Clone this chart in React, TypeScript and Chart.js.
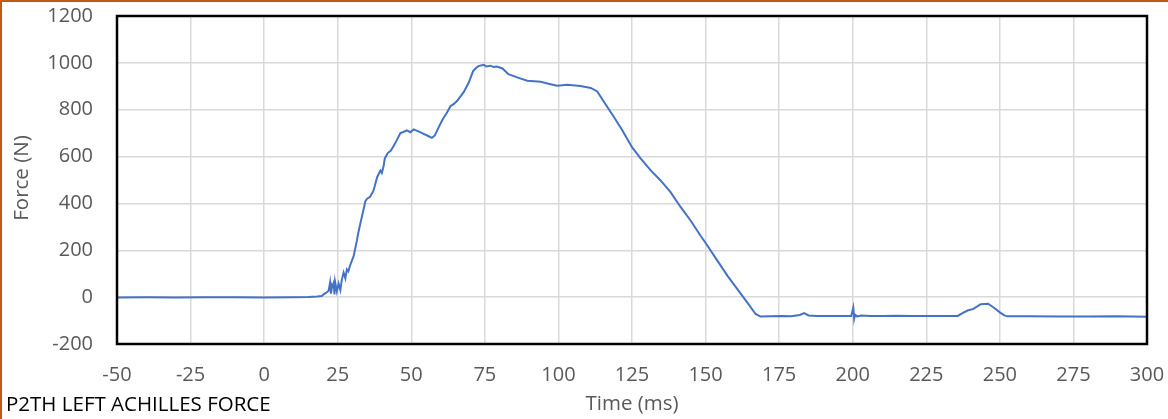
import React, { useEffect, useRef } from "react";
import { Chart, registerables } from "chart.js";

Chart.register(...registerables);

const chartTitle = "P2TH LEFT ACHILLES FORCE";
const xAxisTitle = "Time (ms)";
const yAxisTitle = "Force (N)";

const timeMs: number[] = [
  -50, -40, -30, -20, -10, 0, 10, 15, 18, 19.6, 20.2, 21, 21.9, 22.4, 22.7, 23, 23.6, 23.9, 24.1, 24.7,
  25.3, 25.9, 26.4, 27, 27.6, 28.1, 28.6, 29.2, 30.4, 31.5, 32, 32.7, 33.7, 34.4, 35, 36, 37, 37.5, 38.4,
  39.5, 40, 40.6, 41, 42, 43, 44, 45, 46.3, 47.3, 48.5, 49.7, 50.8, 52, 53, 54, 55.4, 57, 58, 58.8, 59.5,
  60.5, 61.2, 62, 63.3, 64.5, 65.6, 67.8, 69.5, 71, 72, 72.8, 74.6, 75.5, 76.9, 78, 79, 81, 83, 86, 89.4,
  94, 97.3, 99.6, 103, 107.5, 111, 113.2, 115.4, 118.8, 121.7, 125, 127.9, 131.3, 134.7, 138.1, 141.5,
  144.9, 148.3, 150.2, 154, 157.4, 160.8, 164.2, 167, 168.7, 172, 176, 179, 182, 183.5, 185, 188, 192,
  196, 199.5, 200.2, 200.5, 200.8, 201.5, 203, 206, 210, 215, 220, 225, 230, 235.7, 237, 239, 241, 243.5,
  246, 248, 250, 251.5, 252.7, 260, 270, 280, 290, 300,
];

const forceN: number[] = [
  -1, 0, -1, 0, 0, -1, 0, 1, 3, 5, 12, 18, 27, 62, 15, 40, 60, 12, 65, 25,
  58, 30, 75, 105, 80, 118, 110, 135, 175, 240, 275, 315, 370, 410, 420, 428, 450, 470, 512,
  540, 530, 560, 592, 615, 625, 645, 668, 700, 705, 712, 704, 716, 710, 704, 698, 690, 680, 690, 712, 730,
  755, 770, 785, 815, 825, 838, 875, 915, 965, 978, 986, 992, 985, 988, 982, 984, 976, 952, 938, 924,
  919, 909, 902, 907, 901, 893, 878, 835, 770, 712, 640, 592, 542, 498, 448, 385,
  327, 262, 228, 156, 92, 34, -23, -72, -83, -82, -81, -82, -76, -68, -78, -81, -80,
  -80, -80, -45, -92, -75, -82, -78, -80, -81, -79, -80, -81, -80, -80, -70, -57, -50, -30,
  -28, -45, -65, -78, -82, -82, -83, -83, -82, -84,
];

const xMin = -50;
const xMax = 300;
const xStep = 25;
const yMin = -200;
const yMax = 1200;
const yStep = 200;

const FONT = "'Open Sans', sans-serif";

export default function App() {
  const canvasRef = useRef<HTMLCanvasElement | null>(null);

  useEffect(() => {
    const canvas = canvasRef.current;
    if (!canvas) return;

    const overlay = {
      id: "overlay",
      afterDraw(chart: any) {
        const ctx = chart.ctx;
        const a = chart.chartArea;
        ctx.save();
        ctx.strokeStyle = "#000000";
        ctx.lineWidth = 2.5;
        ctx.strokeRect(a.left, a.top, a.right - a.left, a.bottom - a.top);
        ctx.fillStyle = "#C65911";
        ctx.fillRect(0, 0, 1168, 2);
        ctx.fillRect(0, 0, 2, 419);
        ctx.fillStyle = "#595959";
        ctx.font = `20.5px ${FONT}`;
        ctx.textAlign = "center";
        ctx.textBaseline = "middle";
        ctx.fillText(xAxisTitle, 632, 404);
        ctx.save();
        ctx.translate(22, 178);
        ctx.rotate(-Math.PI / 2);
        ctx.fillText(yAxisTitle, 0, 0);
        ctx.restore();
        ctx.fillStyle = "#000000";
        ctx.font = `20.5px ${FONT}`;
        ctx.textAlign = "left";
        ctx.fillText(chartTitle, 6, 405);
        ctx.restore();
      },
    };

    const chart = new Chart(canvas, {
      type: "line",
      data: {
        datasets: [
          {
            label: "Force",
            data: timeMs.map((t, i) => ({ x: t, y: forceN[i] })),
            borderColor: "#4472C4",
            borderWidth: 2,
            pointRadius: 0,
            tension: 0,
            fill: false,
          },
        ],
      },
      options: {
        animation: false,
        responsive: false,
        devicePixelRatio: 1,
        layout: { padding: { top: 16, right: 21, left: 0, bottom: 0 } },
        plugins: {
          legend: { display: false },
          title: { display: false },
          tooltip: { enabled: false },
        },
        scales: {
          x: {
            type: "linear",
            min: xMin,
            max: xMax,
            border: { display: false },
            grid: { color: "#d9d9d9", lineWidth: 1.5, drawTicks: false },
            ticks: {
              stepSize: xStep,
              padding: 19,
              color: "#595959",
              font: { family: FONT, size: 20 },
              maxRotation: 0,
              autoSkip: false,
              callback: (v: any) => String(v),
            },
            afterFit(scale: any) {
              scale.height = 75;
              scale.paddingLeft = 0;
              scale.paddingRight = 0;
              scale.paddingTop = 0;
              scale.paddingBottom = 0;
            },
          },
          y: {
            min: yMin,
            max: yMax,
            border: { display: false },
            grid: { color: "#d9d9d9", lineWidth: 1.5, drawTicks: false },
            ticks: {
              stepSize: yStep,
              padding: 24,
              color: "#595959",
              font: { family: FONT, size: 20 },
              callback: (v: any) => String(v),
            },
            afterFit(scale: any) {
              scale.width = 117;
              scale.paddingLeft = 0;
              scale.paddingRight = 0;
              scale.paddingTop = 0;
              scale.paddingBottom = 0;
            },
          },
        },
      },
      plugins: [overlay],
    });

    return () => chart.destroy();
  }, []);

  return (
    <div style={{ position: "fixed", left: 0, top: 0, width: 1168, height: 419, background: "#ffffff" }}>
      <canvas ref={canvasRef} width={1168} height={419} style={{ display: "block" }} />
    </div>
  );
}
